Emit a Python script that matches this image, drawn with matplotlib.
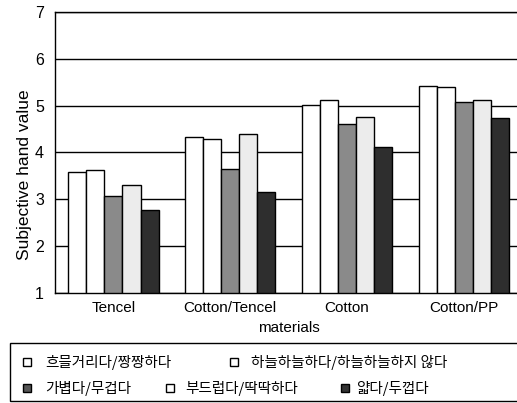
import matplotlib
matplotlib.use("Agg")
import matplotlib.pyplot as plt
import numpy as np
from matplotlib.patches import Rectangle

plt.rcParams['font.family'] = ['Liberation Sans', 'Noto Sans CJK KR', 'DejaVu Sans']

categories = ["Tencel", "Cotton/Tencel", "Cotton", "Cotton/PP"]
series_labels = ["흐믈거리다/짱짱하다", "하늘하늘하다/하늘하늘하지 않다",
                 "가볍다/무겁다", "부드럽다/딱딱하다", "얇다/두껍다"]
s1 = [3.59, 4.33, 5.02, 5.43]
s2 = [3.62, 4.28, 5.12, 5.39]
s3 = [3.07, 3.65, 4.60, 5.08]
s4 = [3.30, 4.39, 4.76, 5.12]
s5 = [2.77, 3.15, 4.12, 4.73]
series = [s1, s2, s3, s4, s5]
colors = ["white", "white", "#8a8a8a", "#ececec", "#2e2e2e"]

fig = plt.figure(figsize=(5.17, 4.03), dpi=100)
ax = fig.add_axes([0.1064, 0.2730, 0.8936 + 0.01, 0.6972])

x = np.arange(len(categories))
w = 0.155
for i, (vals, c) in enumerate(zip(series, colors)):
    ax.bar(x + (i - 2) * w, np.array(vals) - 1, width=w, bottom=1, color=c,
           edgecolor="black", linewidth=1.0, zorder=3)

ax.set_ylim(1, 7)
ax.set_xlim(-0.5, 3.5)
ax.set_yticks([1, 2, 3, 4, 5, 6, 7])
ax.set_xticks(x)
ax.set_xticklabels(categories, fontsize=11)
ax.tick_params(axis='y', labelsize=11.5, length=0, pad=8)
ax.tick_params(axis='x', length=0, pad=6)
ax.yaxis.grid(True, color="black", linewidth=1.0, zorder=0)
ax.set_axisbelow(True)
for s in ["left", "bottom", "top"]:
    ax.spines[s].set_linewidth(1.0)
ax.spines["right"].set_visible(False)
ax.set_xlabel("materials", fontsize=11, labelpad=4)
ax.set_ylabel("Subjective hand value", fontsize=12.5)
ax.yaxis.set_label_coords(-0.049, 0.42)

# legend box
fw, fh = 517, 403
def fx(px): return px / fw
def fy(py): return 1 - py / fh
fig.patches.append(Rectangle((fx(10), fy(401)), fx(520) - fx(10), fy(343) - fy(401),
                             transform=fig.transFigure, facecolor="white",
                             edgecolor="black", linewidth=1.0))
pos = [(27, 362, 45), (234, 362, 251), (27, 388, 45), (170, 388, 185), (345, 388, 356)]
mark_colors = ["white", "white", "#555555", "white", "#333333"]
for (px, py, tx), lab, mc in zip(pos, series_labels, mark_colors):
    fig.patches.append(Rectangle((fx(px - 4), fy(py + 4)), 8 / fw, 8 / fh,
                                 transform=fig.transFigure, facecolor=mc,
                                 edgecolor="black", linewidth=1.0))
    fig.text(fx(tx), fy(py), lab, fontsize=10.5, va="center", ha="left",
             family=['Noto Sans CJK KR', 'DejaVu Sans'])

fig.savefig("out.png", dpi=100)
